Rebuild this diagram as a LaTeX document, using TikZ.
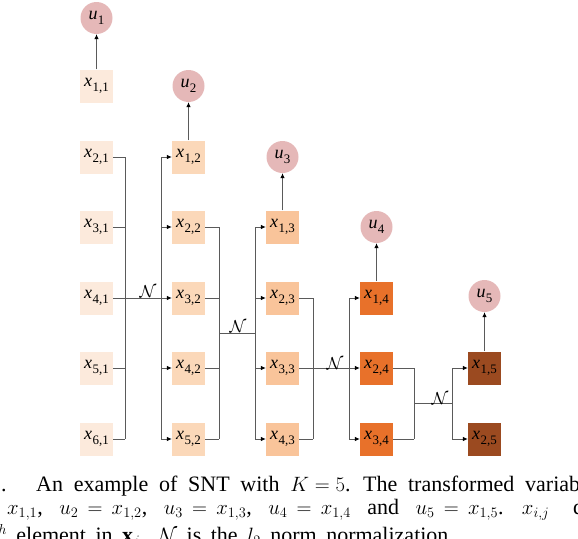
\documentclass[tikz,border=0pt]{standalone}
\usepackage{fontspec}
\usepackage{graphicx}
\setmainfont{Liberation Serif}
\usetikzlibrary{arrows.meta,calc}
\definecolor{colA}{HTML}{FCEADC}
\definecolor{colB}{HTML}{FBD8B9}
\definecolor{colC}{HTML}{F9C49A}
\definecolor{colD}{HTML}{E8712A}
\definecolor{colE}{HTML}{9B4A20}
\definecolor{circc}{HTML}{E5B8B8}
\definecolor{wirec}{HTML}{5A5A5A}
\newcommand{\vlab}[2]{\textit{#1}\kern0.02em\raisebox{-0.27em}{\scalebox{0.72}{#2}}}
\begin{document}
\begin{tikzpicture}[x=1pt,y=-1pt,
  box/.style={minimum width=33pt,minimum height=33pt,inner sep=0pt,font=\fontsize{18}{20}\selectfont},
  ucirc/.style={circle,fill=circc,minimum size=32pt,inner sep=0pt,font=\fontsize{18}{20}\selectfont},
  wire/.style={draw=wirec,line width=0.8pt},
  arr/.style={wire,-{Latex[length=5pt,width=4.5pt,color=black]}},
  nlab/.style={inner sep=0pt,font=\fontsize{18}{20}\selectfont},
  captxt/.style={anchor=base west,inner sep=0pt,font=\fontsize{22}{26}\selectfont}]
\useasboundingbox (0,0) rectangle (578,538);
\clip (0,0) rectangle (578,538);
% column 1
\node[box,fill=colA] (x11) at (96.5,86) {\vlab{x}{1,1}};
\node[box,fill=colA] (x21) at (96.5,157) {\vlab{x}{2,1}};
\node[box,fill=colA] (x31) at (96.5,227) {\vlab{x}{3,1}};
\node[box,fill=colA] (x41) at (96.5,298) {\vlab{x}{4,1}};
\node[box,fill=colA] (x51) at (96.5,368) {\vlab{x}{5,1}};
\node[box,fill=colA] (x61) at (96.5,439) {\vlab{x}{6,1}};
% column 2
\node[box,fill=colB] (x12) at (188.5,157) {\vlab{x}{1,2}};
\node[box,fill=colB] (x22) at (188.5,227) {\vlab{x}{2,2}};
\node[box,fill=colB] (x32) at (188.5,298) {\vlab{x}{3,2}};
\node[box,fill=colB] (x42) at (188.5,368) {\vlab{x}{4,2}};
\node[box,fill=colB] (x52) at (188.5,439) {\vlab{x}{5,2}};
% column 3
\node[box,fill=colC] (x13) at (282.5,227) {\vlab{x}{1,3}};
\node[box,fill=colC] (x23) at (282.5,298) {\vlab{x}{2,3}};
\node[box,fill=colC] (x33) at (282.5,368) {\vlab{x}{3,3}};
\node[box,fill=colC] (x43) at (282.5,439) {\vlab{x}{4,3}};
% column 4
\node[box,fill=colD] (x14) at (376.5,298) {\vlab{x}{1,4}};
\node[box,fill=colD] (x24) at (376.5,368) {\vlab{x}{2,4}};
\node[box,fill=colD] (x34) at (376.5,439) {\vlab{x}{3,4}};
% column 5
\node[box,fill=colE] (x15) at (484.5,368) {\vlab{x}{1,5}};
\node[box,fill=colE] (x25) at (484.5,439) {\vlab{x}{2,5}};
% outputs
\node[ucirc] (u1) at (96.5,18) {\vlab{u}{1}};
\node[ucirc] (u2) at (188.5,86) {\vlab{u}{2}};
\node[ucirc] (u3) at (282.5,157) {\vlab{u}{3}};
\node[ucirc] (u4) at (376.5,227) {\vlab{u}{4}};
\node[ucirc] (u5) at (484.5,296) {\vlab{u}{5}};
\foreach \k in {1,...,5} \draw[arr] (x1\k.north) -- (u\k.south);
% bus coordinates
\coordinate (R1) at (125,0); \coordinate (L1) at (161,0);
\coordinate (R2) at (219,0); \coordinate (L2) at (255,0);
\coordinate (R3) at (313,0); \coordinate (L3) at (349,0);
\coordinate (R4) at (414,0); \coordinate (L4) at (452,0);
% stage 1
\foreach \i in {2,...,6} \draw[wire] (x\i1.east) -- (x\i1.east -| R1);
\draw[wire] (x21.east -| R1) -- (x61.east -| R1);
\coordinate (M1) at ($(x21.east -| R1)!0.5!(x61.east -| R1)$);
\draw[wire] (M1) -- (M1 -| L1) node[midway,above=0pt,xshift=5pt,nlab] (n1) {$\mathcal{N}$};
\draw[wire] (x12.west -| L1) -- (x52.west -| L1);
\foreach \i in {1,...,5} \draw[arr] (x\i2.west -| L1) -- (x\i2.west);
% stage 2
\foreach \i in {2,...,5} \draw[wire] (x\i2.east) -- (x\i2.east -| R2);
\draw[wire] (x22.east -| R2) -- (x52.east -| R2);
\coordinate (M2) at ($(x22.east -| R2)!0.5!(x52.east -| R2)$);
\draw[wire] (M2) -- (M2 -| L2) node[midway,above=0pt,xshift=1pt,nlab] (n2) {$\mathcal{N}$};
\draw[wire] (x13.west -| L2) -- (x43.west -| L2);
\foreach \i in {1,...,4} \draw[arr] (x\i3.west -| L2) -- (x\i3.west);
% stage 3
\foreach \i in {2,...,4} \draw[wire] (x\i3.east) -- (x\i3.east -| R3);
\draw[wire] (x23.east -| R3) -- (x43.east -| R3);
\coordinate (M3) at ($(x23.east -| R3)!0.5!(x43.east -| R3)$);
\draw[wire] (M3) -- (M3 -| L3) node[midway,above=-1pt,xshift=4pt,nlab] (n3) {$\mathcal{N}$};
\draw[wire] (x14.west -| L3) -- (x34.west -| L3);
\foreach \i in {1,...,3} \draw[arr] (x\i4.west -| L3) -- (x\i4.west);
% stage 4
\foreach \i in {2,3} \draw[wire] (x\i4.east) -- (x\i4.east -| R4);
\draw[wire] (x24.east -| R4) -- (x34.east -| R4);
\coordinate (M4) at ($(x24.east -| R4)!0.5!(x34.east -| R4)$);
\draw[wire] (M4) -- (M4 -| L4) node[midway,above=-1pt,xshift=7pt,nlab] (n4) {$\mathcal{N}$};
\draw[wire] (x15.west -| L4) -- (x25.west -| L4);
\foreach \i in {1,2} \draw[arr] (x\i5.west -| L4) -- (x\i5.west);
% caption (cropped)
\node[captxt] (c0) at (1,491) {.};
\node[captxt] (c1) at (36,491) {\spaceskip=10.75pt plus 0pt An example of SNT with $K = 5$. The transformed variables are};
\node[captxt] (c2) at (7,514) {\spaceskip=16.5pt plus 0pt \thickmuskip=8mu $x_{1,1}$, $u_2 = x_{1,2}$, $u_3 = x_{1,3}$, $u_4 = x_{1,4}$ and $u_5 = x_{1,5}$. $x_{i,j}$};
\node[captxt] (c2b) at (573,514) {denotes};
\node[captxt] (c3) at (-7,542) {\spaceskip=9.5pt plus 0pt $^{th}$ element in $\mathbf{x}_j$. $\mathcal{N}$ is the $l_2$ norm normalization.};
\end{tikzpicture}
\end{document}
